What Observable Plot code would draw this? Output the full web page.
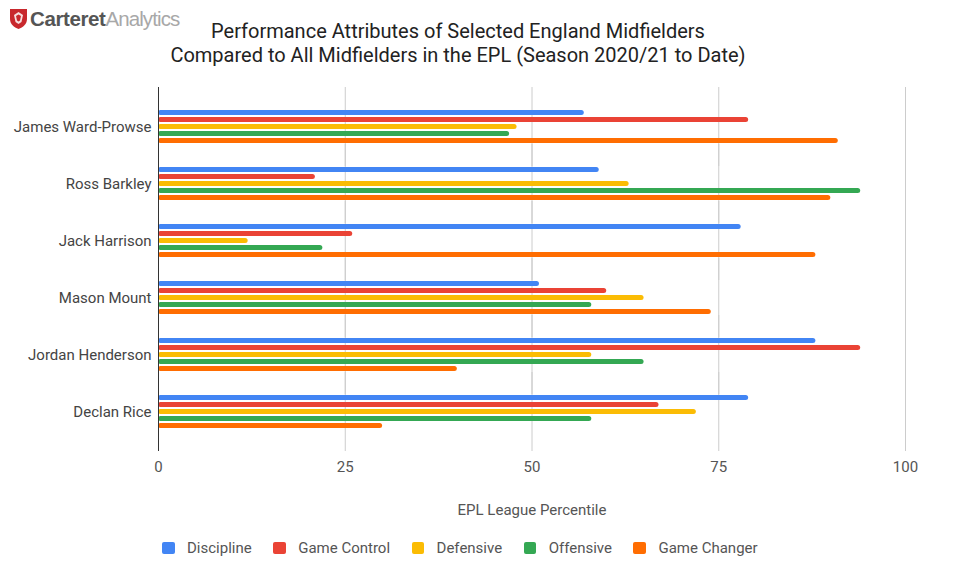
<!DOCTYPE html>
<html>
<head>
<meta charset="utf-8">
<script src="https://cdn.jsdelivr.net/npm/d3@7"></script>
<script src="https://cdn.jsdelivr.net/npm/@observablehq/plot@0.6"></script>
<style>
  html, body { margin: 0; padding: 0; background: #fff; }
  #wrap { position: relative; width: 960px; height: 576px; font-family: Roboto, "Noto Sans", sans-serif; }
  #header { position: relative; height: 80px; }
  #logo { position: absolute; left: 9px; top: 7px; display: flex; align-items: center; font-family: "Liberation Sans", Arial, sans-serif; font-size: 20.5px; letter-spacing: -0.4px; }
  #logo .b { font-weight: bold; color: #555; margin-left: 2px; }
  #logo .l { color: #a8a8a8; letter-spacing: -0.9px; }
  #title { position: absolute; left: 108px; width: 700px; top: 19px; text-align: center; font-size: 20px; line-height: 24px; color: #222; }
  #legend { display: flex; align-items: center; margin-left: 162px; margin-top: 15px; font-size: 15px; color: #555; }
  #legend .item { display: flex; align-items: center; margin-right: 21.5px; }
  #legend .sw { width: 12.5px; height: 12.5px; border-radius: 2px; margin-right: 12.5px; }
  svg { display: block; }
</style>
</head>
<body>
<div id="wrap">
  <div id="header">
    <div id="logo">
      <svg width="19" height="22" viewBox="0 0 19 22"><path d="M1 1 H18 V11 C18 16 14 19.5 9.5 21 C5 19.5 1 16 1 11 Z" fill="#c8282d"/><path d="M5 7 L9.5 4 L14 7 L12.5 14 L9.5 16 L6.5 14 Z" fill="#fff" opacity="0.85"/><path d="M7 8 L9.5 6.5 L12 8 L11 12.5 L9.5 13.5 L8 12.5 Z" fill="#c8282d"/></svg>
      <span class="b">Carteret</span><span class="l">Analytics</span>
    </div>
    <div id="title">Performance Attributes of Selected England Midfielders<br>Compared to All Midfielders in the EPL (Season 2020/21 to Date)</div>
  </div>
  <div id="chart"></div>
  <div id="legend"></div>
</div>
<script>
const players = ["James Ward-Prowse", "Ross Barkley", "Jack Harrison", "Mason Mount", "Jordan Henderson", "Declan Rice"];
const attributes = ["Discipline", "Game Control", "Defensive", "Offensive", "Game Changer"];
const colors = ["#4285F4", "#EA4335", "#FBBC04", "#34A853", "#FF6D01"];
const discipline  = [57, 59, 78, 51, 88, 79];
const gameControl = [79, 21, 26, 60, 94, 67];
const defensive   = [48, 63, 12, 65, 58, 72];
const offensive   = [47, 94, 22, 58, 65, 58];
const gameChanger = [91, 90, 88, 74, 40, 30];
const xTicks = [0, 25, 50, 75, 100];
const xLabel = "EPL League Percentile";

const series = [discipline, gameControl, defensive, offensive, gameChanger];
const data = players.flatMap((p, i) => attributes.map((a, j) => ({player: p, attribute: a, value: series[j][i]})));

const chart = Plot.plot({
  width: 960,
  height: 444,
  marginTop: 7,
  marginBottom: 72,
  marginLeft: 158,
  marginRight: 55,
  style: {fontFamily: "Roboto, sans-serif", background: "#fff"},
  x: {domain: [0, 100]},
  y: {domain: attributes, axis: null, paddingInner: 0.3, paddingOuter: 0},
  fy: {domain: players, paddingInner: 0.383, paddingOuter: 0.371, label: null, axis: null},
  color: {domain: attributes, range: colors},
  marks: [
    Plot.ruleX(xTicks.filter(d => d > 0), {stroke: "#cccccc", strokeWidth: 1, insetTop: -22, insetBottom: -22}),
    Plot.barX(data, {x: "value", y: "attribute", fy: "player", fill: "attribute", rx: 2.5}),
    Plot.ruleX([0], {stroke: "#333", strokeWidth: 1, insetTop: -22, insetBottom: -22}),
    Plot.axisFy({anchor: "left", tickSize: 0, tickPadding: 7, label: null, fontSize: 15, color: "#444"}),
    Plot.axisX({ticks: xTicks, tickSize: 0, tickPadding: 32, fontSize: 15, color: "#555", label: xLabel, labelAnchor: "center", labelOffset: 85, labelArrow: "none"})
  ]
});
document.getElementById("chart").appendChild(chart);

const legend = document.getElementById("legend");
attributes.forEach((a, j) => {
  const item = document.createElement("div");
  item.className = "item";
  const sw = document.createElement("div");
  sw.className = "sw";
  sw.style.background = colors[j];
  const t = document.createElement("span");
  t.textContent = a;
  item.appendChild(sw);
  item.appendChild(t);
  legend.appendChild(item);
});
</script>
</body>
</html>
